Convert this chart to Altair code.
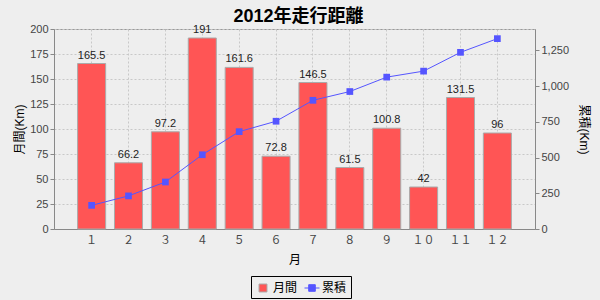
import altair as alt
import pandas as pd

months = ["１", "２", "３", "４", "５", "６", "７", "８", "９", "１０", "１１", "１２"]
monthly = [165.5, 66.2, 97.2, 191, 161.6, 72.8, 146.5, 61.5, 100.8, 42, 131.5, 96]
cumulative = [165.5, 231.7, 328.9, 519.9, 681.5, 754.3, 900.8, 962.3, 1063.1, 1105.1, 1236.6, 1332.6]
series_names = ["月間", "累積"]
series_fill = ["#FF5555", "#5555FF"]
series_stroke = ["#AAAAAA", "#5555FF"]
legend_shapes = ["M-0.53,-0.53H0.53V0.53H-0.53Z", "M-1,0H1M-0.44,-0.44H0.44V0.44H-0.44Z"]
left_ticks = [0, 25, 50, 75, 100, 125, 150, 175, 200]
right_ticks = [0, 250, 500, 750, 1000, 1250]

df = pd.DataFrame({"月": months, "月間": monthly, "累積": cumulative})
legend_df = pd.DataFrame({"系列": series_names})

FONT = "Liberation Sans, Noto Sans CJK JP"
GRID = dict(grid=True, gridColor="#C8C8C8", gridDash=[2, 2], gridWidth=1)

x = alt.X("月:N", sort=months,
          scale=alt.Scale(paddingInner=0.24, paddingOuter=0.64),
          axis=alt.Axis(title="月", labelAngle=0, ticks=False, bandPosition=0.5,
                        domainColor="#888888", labelColor="#444444", labelFontSize=11,
                        labelPadding=5, titlePadding=9, titleFontSize=12,
                        titleFontWeight="normal", **GRID))

yleft = alt.Y("月間:Q", scale=alt.Scale(domain=[0, 200], nice=False),
              axis=alt.Axis(title="月間(Km)", values=left_ticks, tickSize=4, tickColor="#888888",
                            domainColor="#888888", labelColor="#444444", labelFontSize=11,
                            titleFontSize=12, titleFontWeight="normal", titlePadding=3, **GRID))

bars = alt.Chart(df).mark_bar(fill="#FF5555", stroke="#AAAAAA", strokeWidth=1).encode(x=x, y=yleft)

labels = alt.Chart(df).mark_text(baseline="bottom", dy=-3, fontSize=11, color="#222222", font=FONT).encode(
    x=x, y=yleft, text=alt.Text("月間:Q", format="~f"))

legend = alt.Legend(
    orient="none", legendX=197, legendY=247, direction="horizontal", title=None,
    strokeColor="black", padding=4, symbolSize=225, labelFontSize=12, labelFont=FONT,
    columnPadding=4, labelOffset=2, symbolStrokeWidth=1, labelColor="#000000",
)
legend_layer = alt.Chart(legend_df).transform_filter("false").mark_point(
    filled=True, size=225, opacity=1, strokeWidth=1
).encode(
    color=alt.Color("系列:N", scale=alt.Scale(domain=series_names, range=series_fill), legend=legend),
    stroke=alt.Stroke("系列:N", scale=alt.Scale(domain=series_names, range=series_stroke), legend=legend),
    shape=alt.Shape("系列:N", scale=alt.Scale(domain=series_names, range=legend_shapes), legend=legend),
)

yright = alt.Y("累積:Q", scale=alt.Scale(domain=[0, 1400], nice=False),
               axis=alt.Axis(title="累積(Km)", orient="right", values=right_ticks, format=",.0f",
                             grid=False, tickSize=4, tickColor="#888888", domainColor="#888888",
                             labelColor="#444444", labelFontSize=11, titleFontSize=12,
                             titleFontWeight="normal", titlePadding=8))

line = alt.Chart(df).mark_line(color="#5555FF", strokeWidth=1).encode(x=x, y=yright)
points = alt.Chart(df).mark_point(
    shape="square", filled=True, size=45, opacity=1, color="#5555FF"
).encode(x=x, y=yright)

chart = alt.layer(
    alt.layer(bars, labels, legend_layer),
    alt.layer(line, points),
).resolve_scale(y="independent").properties(
    width=481, height=200,
    title=alt.Title("2012年走行距離", fontSize=18, fontWeight="bold", font=FONT,
                    anchor="middle", offset=6, dx=4, dy=9, color="#000000"),
    autosize=alt.AutoSizeParams(type="none"),
    padding={"left": 54, "top": 29, "right": 65, "bottom": 71},
    background="#EEEEEE",
).configure_view(fill="white", stroke="#999999").configure_axis(
    labelFont=FONT, titleFont=FONT, titleColor="#000000"
)

chart.save("out.html", embed_options={"renderer": "svg", "actions": False})
